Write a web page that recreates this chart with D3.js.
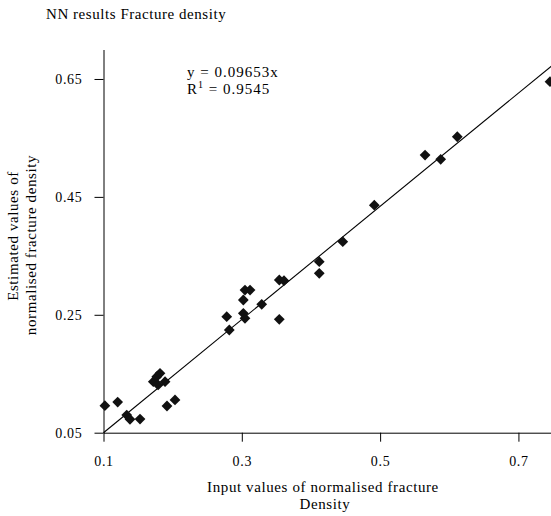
<!DOCTYPE html>
<html>
<head>
<meta charset="utf-8">
<script src="https://cdn.jsdelivr.net/npm/d3@7"></script>
<style>
  body { margin: 0; background: #fff; }
  svg text { font-family: "Liberation Serif", "Times New Roman", serif; fill: #000; }
</style>
</head>
<body>
<div id="chart"></div>
<script>
// values
const inputDensity = [0.102, 0.1205, 0.1336, 0.1383, 0.1528, 0.172, 0.177, 0.1817, 0.189, 0.179,
  0.1918, 0.2034, 0.2782, 0.2819, 0.3022, 0.3046, 0.3119, 0.3022, 0.3046, 0.3288,
  0.3542, 0.3542, 0.361, 0.412, 0.412, 0.446, 0.4916, 0.565, 0.5876, 0.6116, 0.7457];
const estimatedDensity = [0.0958, 0.102, 0.080, 0.0727, 0.0732, 0.1365, 0.145, 0.1508, 0.1365, 0.131,
  0.0953, 0.1055, 0.2468, 0.2242, 0.2751, 0.292, 0.292, 0.2525, 0.244, 0.2678,
  0.2424, 0.309, 0.3078, 0.340, 0.3204, 0.374, 0.436, 0.521, 0.5138, 0.552, 0.6454];
const trendX = [0.1, 0.75];
const trendY = [0.05, 0.674];
const xTicks = [0.1, 0.3, 0.5, 0.7];
const yTicks = [0.05, 0.25, 0.45, 0.65];

const width = 551, height = 516;
const svg = d3.select("#chart").append("svg")
  .attr("width", width).attr("height", height);

const x = d3.scaleLinear().domain([0.1, 0.75]).range([103.5, 553]);
const y = d3.scaleLinear().domain([0.05, 0.7]).range([432.7, 49.5]);

// title
svg.append("text").attr("x", 46).attr("y", 19)
  .style("font-size", "15px").style("letter-spacing", "0.55px")
  .text("NN results Fracture density");

// axes
const xAxis = svg.append("g").attr("transform", `translate(0,${y(0.05)})`)
  .call(d3.axisBottom(x).tickValues(xTicks).tickSize(9).tickSizeOuter(0).tickPadding(14)
    .tickFormat(d3.format(".1f")));
const yAxis = svg.append("g").attr("transform", `translate(${x(0.1)},0)`)
  .call(d3.axisLeft(y).tickValues(yTicks).tickSize(9).tickSizeOuter(0).tickPadding(12)
    .tickFormat(d3.format(".2f")));
[xAxis, yAxis].forEach(g => {
  g.select(".domain").attr("stroke", "#000");
  g.selectAll(".tick line").attr("stroke", "#000");
  g.selectAll("text").style("font-size", "14px").style("letter-spacing", "0.7px")
    .style("font-family", "'Liberation Serif', serif");
});

// trend line
const pts = trendX.map((d, i) => [d, trendY[i]]);
svg.append("path")
  .attr("d", d3.line().x(d => x(d[0])).y(d => y(d[1]))(pts))
  .attr("stroke", "#000").attr("stroke-width", 1.1).attr("fill", "none");

// points
const data = inputDensity.map((d, i) => ({ x: d, y: estimatedDensity[i] }));
svg.append("g").selectAll("path").data(data).join("path")
  .attr("d", d3.symbol().type(d3.symbolSquare).size(58))
  .attr("transform", d => `translate(${x(d.x)},${y(d.y)}) rotate(45)`)
  .attr("fill", "#111");

// equation
const eq = svg.append("g").style("font-size", "15px").style("letter-spacing", "1px");
eq.append("text").attr("x", 187).attr("y", 77).text("y = 0.09653x");
const r = eq.append("text").attr("x", 187).attr("y", 94);
r.append("tspan").text("R");
r.append("tspan").attr("dy", -6).style("font-size", "10px").text("1");
r.append("tspan").attr("dy", 6).text(" = 0.9545");

// axis titles
const lab = svg.append("g").style("font-size", "15px").style("letter-spacing", "0.6px");
lab.append("text").attr("text-anchor", "middle")
  .attr("transform", "translate(18,236) rotate(-90)")
  .text("Estimated values of");
lab.append("text").attr("text-anchor", "middle")
  .attr("transform", "translate(36,245) rotate(-90)")
  .text("normalised fracture density");

lab.append("text").attr("text-anchor", "middle").attr("x", 323).attr("y", 492)
  .text("Input values of normalised fracture");
lab.append("text").attr("text-anchor", "middle").attr("x", 325).attr("y", 509)
  .text("Density");
</script>
</body>
</html>
